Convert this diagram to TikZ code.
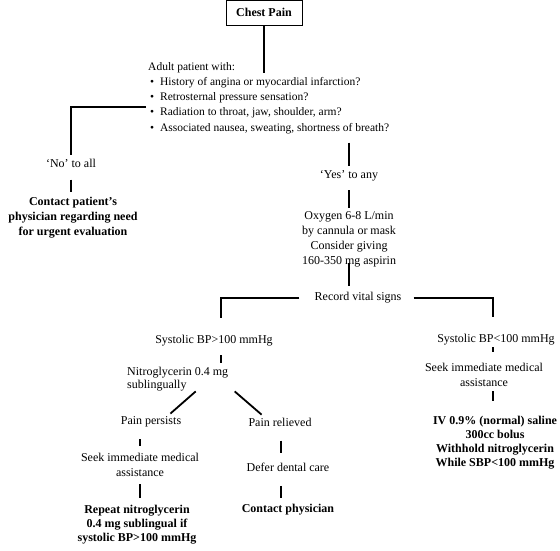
\documentclass[tikz,border=0pt]{standalone}
\usepackage{fontspec}
\setmainfont{Liberation Serif}
\usepackage{tikz}
\usetikzlibrary{positioning,calc}
\newcommand{\qbullet}{\hspace*{2pt}\makebox[10pt][l]{\textbullet}}
\tikzset{
  note/.style={
    inner sep=0pt,
    align=center,
    font=\fontsize{12}{15}\selectfont
  },
  action/.style={note, font=\fontsize{12}{15}\selectfont\bfseries},
  titlebox/.style={
    rectangle,
    draw=black,
    line width=0.8pt,
    minimum width=76pt,
    minimum height=25pt,
    inner sep=2pt,
    font=\fontsize{12}{15}\selectfont\bfseries
  },
  link/.style={
    draw=black,
    line width=2.4pt
  }
}

\begin{document}
\begin{tikzpicture}[x=1pt, y=-1pt]
\useasboundingbox (0,0) rectangle (560,551);

% ---- Top: the question ----
\node[titlebox] (chest) at (264,12.5) {Chest Pain};
\coordinate (qtop) at (264,73);
\node[note, align=left, anchor=west, font=\fontsize{11.5}{15.25}\selectfont] (adult) at (148,98) {
  Adult patient with:\\
  \qbullet History of angina or myocardial infarction?\\
  \qbullet Retrosternal pressure sensation?\\
  \qbullet Radiation to throat, jaw, shoulder, arm?\\
  \qbullet Associated nausea, sweating, shortness of breath?
};

% ---- Left branch: no ----
\node[note] (no) at (71,163) {`No' to all};
\node[action] (nocall) at (73,217.5) {
  Contact patient's\\
  physician regarding need\\
  for urgent evaluation
};

% ---- Middle: yes ----
\node[note] (yes) at (349,176) {`Yes' to any};
\node[note] (oxygen) at (349,239) {
  Oxygen 6-8 L/min\\
  by cannula or mask\\
  Consider giving\\
  160-350 mg aspirin
};
\node[note] (vitals) at (358,298) {Record vital signs};

% ---- Systolic BP above 100 ----
\node[note] (sbphigh) at (214,341) {Systolic BP>100 mmHg};
\node[note, align=left, anchor=west, font=\fontsize{12}{13.5}\selectfont] (nitro) at (127,379) {
  Nitroglycerin 0.4 mg\\
  sublingually
};
\node[note] (persists) at (151,422) {Pain persists};
\node[note] (relieved) at (280,422) {Pain relieved};
\node[note] (seekA) at (140,465) {
  Seek immediate medical\\
  assistance
};
\node[action, font=\fontsize{12}{14}\selectfont\bfseries] (repeat) at (137,525) {
  Repeat nitroglycerin\\
  0.4 mg sublingual if\\
  systolic BP>100 mmHg
};
\node[note] (defer) at (288,467) {Defer dental care};
\node[action] (contact) at (288,510) {Contact physician};

% ---- Systolic BP below 100 ----
\node[note] (sbplow) at (496,340) {Systolic BP<100 mmHg};
\node[note] (seekB) at (484,375) {
  Seek immediate medical\\
  assistance
};
\node[action, font=\fontsize{12}{14}\selectfont\bfseries] (saline) at (495,443) {
  IV 0.9\% (normal) saline\\
  300cc bolus\\
  Withhold nitroglycerin\\
  While SBP<100 mmHg
};

% column lines
\coordinate (cno) at (71,0);
\coordinate (cyes) at (349,0);
\coordinate (chigh) at (221,0);
\coordinate (clow) at (493,0);
\coordinate (cpers) at (140,0);
\coordinate (crel) at (281,0);

% ---- Flow ----
\draw[link] (chest) -- (qtop);
\draw[link, shorten <=2pt, shorten >=3.5pt] ([yshift=-9pt]adult.west) -| (no.north);
\draw[link, shorten <=12.3pt, shorten >=4.5pt] (no.south) -- (nocall.north -| cno);

\draw[link, shorten <=8.6pt, shorten >=4.5pt] (adult.south -| cyes) -- (yes.north);
\draw[link, shorten <=8.7pt, shorten >=3.5pt] (yes.south) -- (oxygen.north);
\draw[link, shorten <=-4.3pt, shorten >=6.5pt] (oxygen.south) -- (vitals.north -| cyes);

\draw[link, shorten <=15pt, shorten >=17.5pt] (vitals.west) -| (sbphigh.north -| chigh);
\draw[link, shorten <=12pt, shorten >=17.5pt] (vitals.east) -| (sbplow.north -| clow);

\draw[link, shorten <=8.7pt, shorten >=3.5pt] (sbphigh.south -| chigh) -- (nitro.north -| chigh);
\draw[link, line width=1.8pt, shorten >=4.5pt] ([xshift=18pt]nitro.south) -- ([xshift=16pt]persists.north);
\draw[link, line width=1.8pt, shorten >=4.5pt] ([xshift=57pt]nitro.south) -- ([xshift=-15pt]relieved.north);

\draw[link, line width=1.8pt, shorten <=11.7pt, shorten >=7.5pt] (persists.south -| cpers) -- (seekA.north -| cpers);
\draw[link, shorten <=7.3pt, shorten >=7.5pt] (seekA.south -| cpers) -- (repeat.north -| cpers);
\draw[link, shorten <=14.3pt, shorten >=9.5pt] (relieved.south -| crel) -- (defer.north -| crel);
\draw[link, shorten <=14.3pt, shorten >=6.5pt] (defer.south -| crel) -- (contact.north -| crel);

\draw[link, line width=1.8pt, shorten <=1.7pt, shorten >=11.5pt] (sbplow.south -| clow) -- (seekB.north -| clow);
\draw[link, shorten <=4.3pt, shorten >=15.5pt] (seekB.south -| clow) -- (saline.north -| clow);

\end{tikzpicture}
\end{document}
